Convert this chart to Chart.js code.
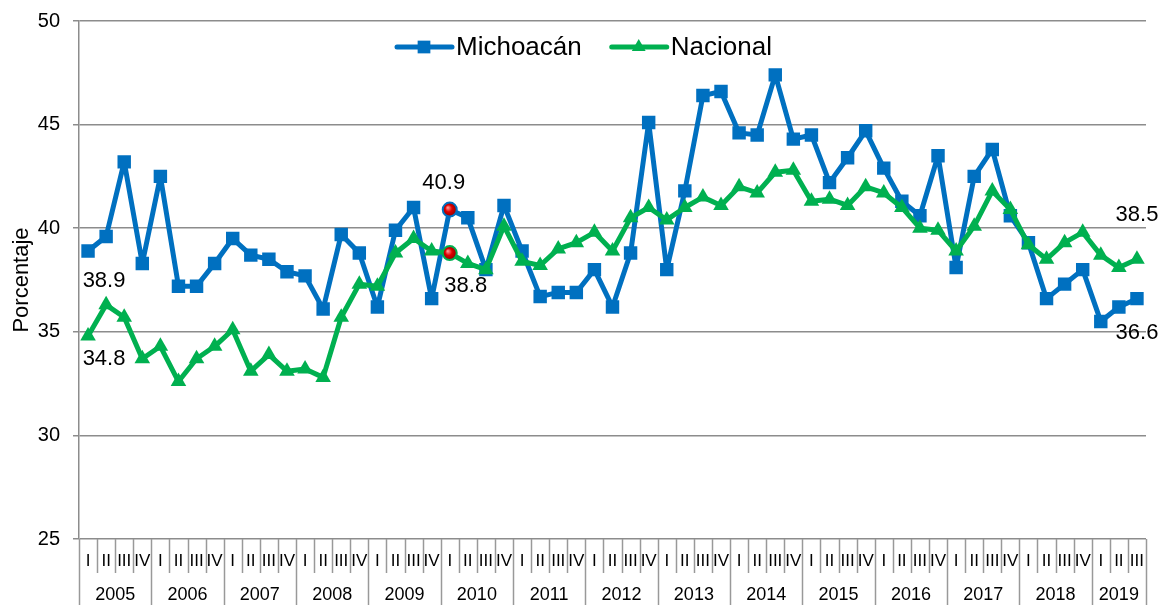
<!DOCTYPE html>
<html>
<head>
<meta charset="utf-8">
<script src="https://cdn.jsdelivr.net/npm/chart.js@4.4.0/dist/chart.umd.min.js"></script>
<style>
  html, body { margin: 0; padding: 0; background: #fff; }
  #wrap { width: 1165px; height: 605px; }
</style>
</head>
<body>
<div id="wrap"><canvas id="chart" width="1165" height="605"></canvas></div>
<script>
// Data
const years = ['2005', '2006', '2007', '2008', '2009', '2010', '2011', '2012',
               '2013', '2014', '2015', '2016', '2017', '2018', '2019'];
const quarters = ['I', 'II', 'III', 'IV'];

const michoacan = [
  38.9, 39.6, 43.2, 38.3,   // 2005
  42.5, 37.2, 37.2, 38.3,   // 2006
  39.5, 38.7, 38.5, 37.9,   // 2007
  37.7, 36.1, 39.7, 38.8,   // 2008
  36.2, 39.9, 41.0, 36.6,   // 2009
  40.9, 40.5, 38.0, 41.1,   // 2010
  38.9, 36.7, 36.9, 36.9,   // 2011
  38.0, 36.2, 38.8, 45.1,   // 2012
  38.0, 41.8, 46.4, 46.6,   // 2013
  44.6, 44.5, 47.4, 44.3,   // 2014
  44.5, 42.2, 43.4, 44.7,   // 2015
  42.9, 41.3, 40.6, 43.5,   // 2016
  38.1, 42.5, 43.8, 40.6,   // 2017
  39.3, 36.6, 37.3, 38.0,   // 2018
  35.5, 36.2, 36.6          // 2019
];
const nacional = [
  34.8, 36.3, 35.7, 33.7,
  34.3, 32.6, 33.7, 34.3,
  35.1, 33.1, 33.9, 33.1,
  33.2, 32.8, 35.7, 37.3,
  37.2, 38.8, 39.5, 38.9,
  38.8, 38.3, 38.0, 40.1,
  38.4, 38.2, 39.0, 39.3,
  39.8, 38.9, 40.5, 41.0,
  40.4, 41.0, 41.5, 41.1,
  42.0, 41.7, 42.7, 42.8,
  41.3, 41.4, 41.1, 42.0,
  41.7, 41.0, 40.0, 39.9,
  38.9, 40.1, 41.8, 40.9,
  39.2, 38.5, 39.3, 39.8,
  38.7, 38.1, 38.5
];
const yTicks = [25, 30, 35, 40, 45, 50];
const highlightIndex = 20; // 2010 I

const FONT = "'Liberation Sans', Arial, sans-serif";
const BLUE = '#0070C0';
const GREEN = '#00B050';
const GRID = '#8c8c8c';

const labels = years.flatMap(() => quarters).slice(0, michoacan.length);

// red "ball" for the highlighted quarter
function redBall(ctx) {
  const c = ctx.chart;
  const xs = c.scales.x, ys = c.scales.y;
  if (!xs || !ys || ctx.raw == null) return '#d00000';
  const x = xs.getPixelForValue(ctx.dataIndex), y = ys.getPixelForValue(ctx.raw);
  const g = c.ctx.createRadialGradient(x - 2, y - 2, 0.5, x, y, 7);
  g.addColorStop(0, '#ff9090');
  g.addColorStop(0.45, '#e00000');
  g.addColorStop(1, '#8a0000');
  return g;
}

function series(label, data, color, style, radius, order) {
  const hi = ctx => ctx.dataIndex === highlightIndex;
  return {
    label, data, order,
    borderColor: color,
    borderWidth: 5,
    borderJoinStyle: 'round',
    tension: 0,
    pointStyle: ctx => hi(ctx) ? 'circle' : style,
    pointRadius: ctx => hi(ctx) ? 7 : radius,
    pointBackgroundColor: ctx => hi(ctx) ? redBall(ctx) : color,
    pointBorderColor: color,
    pointBorderWidth: ctx => hi(ctx) ? 2 : 0
  };
}

// Year row + separators under the quarter labels
const xAxisBoxes = {
  id: 'xAxisBoxes',
  afterDraw(chart) {
    const xs = chart.scales.x, ctx = chart.ctx;
    const top = chart.chartArea.bottom, n = labels.length;
    ctx.save();
    ctx.strokeStyle = '#999';
    ctx.lineWidth = 1.5;
    for (let i = 0; i <= n; i++) {
      const x = Math.round(xs.getPixelForValue(i - 0.5)) + 0.5;
      const full = i % 4 === 0 || i === n;
      ctx.beginPath();
      ctx.moveTo(x, top);
      ctx.lineTo(x, full ? chart.height : top + 34);
      ctx.stroke();
    }
    ctx.fillStyle = '#000';
    ctx.font = '18px ' + FONT;
    ctx.textAlign = 'center';
    ctx.textBaseline = 'middle';
    years.forEach((yr, k) => {
      const first = k * 4, last = Math.min(k * 4 + 3, n - 1);
      const cx = (xs.getPixelForValue(first - 0.5) + xs.getPixelForValue(last + 0.5)) / 2;
      ctx.fillText(yr, cx, 595);
    });
    ctx.restore();
  }
};

// Legend with line + marker, drawn inside the plot
const lineLegend = {
  id: 'lineLegend',
  afterDraw(chart) {
    const ctx = chart.ctx;
    const items = [
      { text: 'Michoacán', color: BLUE, style: 'rect', radius: 9 },
      { text: 'Nacional', color: GREEN, style: 'triangle', radius: 8 }
    ];
    let x = 397;
    const y = 47;
    ctx.save();
    ctx.font = '26px ' + FONT;
    ctx.textBaseline = 'middle';
    items.forEach(it => {
      ctx.strokeStyle = it.color;
      ctx.lineWidth = 5;
      ctx.lineCap = 'round';
      ctx.beginPath();
      ctx.moveTo(x, y);
      ctx.lineTo(x + 55, y);
      ctx.stroke();
      ctx.fillStyle = it.color;
      Chart.helpers.drawPoint(ctx, { pointStyle: it.style, radius: it.radius, borderWidth: 0 }, x + 27, y);
      ctx.fillStyle = '#000';
      ctx.fillText(it.text, x + 59, y + 1);
      x += 59 + ctx.measureText(it.text).width + 30;
    });
    ctx.restore();
  }
};

// Value labels on a few points
const pointLabels = [
  { ds: 0, index: 0, dx: 16, dy: 30 },
  { ds: 1, index: 0, dx: 16, dy: 23 },
  { ds: 0, index: highlightIndex, dx: -6, dy: -27 },
  { ds: 1, index: highlightIndex, dx: 16, dy: 33 },
  { ds: 1, index: nacional.length - 1, dx: 0, dy: -44 },
  { ds: 0, index: michoacan.length - 1, dx: 0, dy: 34 }
];
const valueLabels = {
  id: 'valueLabels',
  afterDraw(chart) {
    const ctx = chart.ctx;
    ctx.save();
    ctx.font = '22px ' + FONT;
    ctx.fillStyle = '#000';
    ctx.textAlign = 'center';
    ctx.textBaseline = 'middle';
    pointLabels.forEach(l => {
      const pt = chart.getDatasetMeta(l.ds).data[l.index];
      const v = chart.data.datasets[l.ds].data[l.index];
      ctx.fillText(v.toFixed(1), pt.x + l.dx, pt.y + l.dy);
    });
    ctx.restore();
  }
};

new Chart(document.getElementById('chart'), {
  type: 'line',
  data: {
    labels,
    datasets: [
      series('Michoacán', michoacan, BLUE, 'rect', 9.5, 1),
      series('Nacional', nacional, GREEN, 'triangle', 9, 0)
    ]
  },
  options: {
    responsive: false,
    animation: false,
    devicePixelRatio: 1,
    layout: { padding: { top: 21, right: 19, left: 0, bottom: 0 } },
    plugins: { legend: { display: false }, tooltip: { enabled: false } },
    scales: {
      x: {
        type: 'category',
        offset: true,
        grid: { display: false, drawTicks: false },
        border: { display: false },
        ticks: {
          autoSkip: false, maxRotation: 0, minRotation: 0,
          padding: 12, color: '#000',
          font: { size: 17, family: FONT }
        },
        afterFit: s => { s.height = 66; s.paddingLeft = 0; s.paddingRight = 0; }
      },
      y: {
        min: 25, max: 50,
        afterBuildTicks: s => { s.ticks = yTicks.map(v => ({ value: v })); },
        ticks: { padding: 13, color: '#000', font: { size: 20, family: FONT } },
        grid: { color: GRID, lineWidth: 1.5, tickLength: 6 },
        border: { display: true, color: GRID, width: 1.5 },
        title: {
          display: true, text: 'Porcentaje', color: '#000',
          font: { size: 22, family: FONT }, padding: { top: 9, bottom: 0 }
        },
        afterFit: s => { s.width = 79; s.paddingTop = 0; s.paddingBottom = 0; }
      }
    }
  },
  plugins: [xAxisBoxes, lineLegend, valueLabels]
});
</script>
</body>
</html>
